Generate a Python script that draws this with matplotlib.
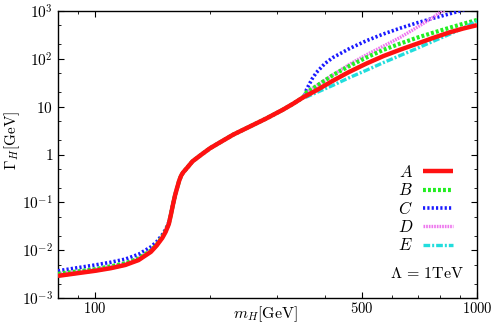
import numpy as np
import matplotlib
matplotlib.use("Agg")
import matplotlib.pyplot as plt
from matplotlib.ticker import FixedLocator, NullFormatter

plt.rcParams['mathtext.fontset'] = 'cm'
plt.rcParams['font.family'] = ['DejaVu Serif']

# Higgs mass grid (GeV) for low-mass part
m_low = [80, 90, 100, 110, 120, 130, 140, 145, 150, 153, 156, 158, 160, 162, 164,
         166, 168, 170, 175, 180, 190, 200, 210, 230, 250, 280, 310, 330, 350]
A_low = [2.9e-3, 3.3e-3, 3.7e-3, 4.2e-3, 4.9e-3, 6.2e-3, 9.2e-3, 0.0125, 0.018, 0.024,
         0.035, 0.055, 0.09, 0.14, 0.2, 0.28, 0.36, 0.42, 0.55, 0.72, 1.0, 1.35, 1.7,
         2.6, 3.6, 5.6, 8.6, 11.5, 15.5]
B_low = [3.2e-3, 3.6e-3, 4.0e-3, 4.6e-3, 5.3e-3, 6.7e-3, 9.8e-3, 0.013, 0.019, 0.025,
         0.036, 0.056, 0.09, 0.14, 0.2, 0.28, 0.36, 0.42, 0.55, 0.72, 1.0, 1.35, 1.7,
         2.6, 3.6, 5.6, 8.6, 11.5, 15.5]
C_low = [3.7e-3, 4.3e-3, 4.9e-3, 5.6e-3, 6.5e-3, 8.2e-3, 0.0117, 0.015, 0.021, 0.027,
         0.038, 0.058, 0.092, 0.14, 0.2, 0.28, 0.36, 0.42, 0.55, 0.72, 1.0, 1.35, 1.7,
         2.6, 3.6, 5.6, 8.6, 11.5, 15.5]

# high-mass part (above the top threshold)
m_A = [380, 420, 460, 514, 570, 629, 700, 769, 850, 920, 1000]
A_high = [22, 35, 52, 80, 115, 155, 210, 275, 360, 430, 505]
m_B = [358, 380, 420, 465, 514, 570, 629, 700, 769, 850, 920, 1000]
B_high = [20, 27, 46, 72, 107, 155, 208, 280, 353, 450, 540, 650]
m_C = [354, 358, 370, 380, 400, 420, 465, 514, 569, 629, 695, 769, 893, 950]
C_high = [17, 23, 38, 52, 80, 107, 166, 240, 331, 437, 562, 708, 977, 1150]
m_D = [358, 400, 465, 514, 569, 629, 695, 760, 808, 850]
D_high = [20, 36, 78, 122, 185, 280, 450, 700, 980, 1200]
m_E = [358, 420, 465, 514, 570, 629, 700, 740, 800, 850, 920, 1000]
E_high = [16, 28, 41, 58, 84, 117, 168, 205, 268, 330, 440, 620]

mA = m_low + m_A
A = A_low + A_high
mB = m_low + m_B
B = B_low + B_high
mC = m_low + m_C
C = C_low + C_high
mD = m_low + m_D
D = B_low + D_high
mE = m_low + m_E
E = A_low + E_high

fig = plt.figure(figsize=(4.91, 3.24), dpi=100)
ax = fig.add_axes([58/491, 1-298/324, (477-58)/491, (298-11)/324])

lC, = ax.plot(mC, C, color='#1a1aff', lw=2.6, ls=(0, (0.6, 0.6)), zorder=3)
lD, = ax.plot(mD, D, color='#ee77ee', lw=2.4, ls=(0, (0.5, 0.3)), zorder=3)
lB, = ax.plot(mB, B, color='#22ee22', lw=3.0, ls=(0, (0.7, 0.5)), zorder=4)
lE, = ax.plot(mE, E, color='#22dddd', lw=2.4, ls=(0, (2.0, 0.6, 0.6, 0.6)), zorder=4)
lA, = ax.plot(mA, A, color='#ff1111', lw=3.2, solid_capstyle='butt', zorder=5)

ax.set_xscale('log')
ax.set_yscale('log')
ax.set_xlim(80, 1000)
ax.set_ylim(1e-3, 1e3)

ax.xaxis.set_major_locator(FixedLocator([100, 500, 1000]))
ax.set_xticklabels(['$100$', '$500$', '$1000$'])
ax.xaxis.set_minor_locator(FixedLocator([90, 200, 300, 400, 600, 700, 800, 900]))
ax.xaxis.set_minor_formatter(NullFormatter())

yt = [1e-3, 1e-2, 1e-1, 1, 10, 100, 1000]
ax.yaxis.set_major_locator(FixedLocator(yt))
ax.set_yticklabels(['$10^{-3}$', '$10^{-2}$', '$10^{-1}$', '$1$', '$10$', '$10^{2}$', '$10^{3}$'])
minors = []
for d in range(-3, 3):
    minors += [2 * 10.0**d, 5 * 10.0**d]
ax.yaxis.set_minor_locator(FixedLocator(minors))
ax.yaxis.set_minor_formatter(NullFormatter())

ax.tick_params(which='both', direction='in', top=True, right=True, labelsize=11)
ax.tick_params(axis='x', which='major', pad=2, labelsize=10.5)
ax.tick_params(which='major', length=4, width=0.8)
ax.tick_params(which='minor', length=2.5, width=0.6)
for s in ax.spines.values():
    s.set_linewidth(1.0)

ax.text(0.494, -0.055, r'$m_H[\mathrm{GeV}]$', transform=ax.transAxes,
        ha='center', va='center', fontsize=11.5)
ax.set_ylabel(r'$\Gamma_H[\mathrm{GeV}]$', fontsize=11)
ax.yaxis.set_label_coords(-0.085, 0.55)

leg = ax.legend([lA, lB, lC, lD, lE], ['$A$', '$B$', '$C$', '$D$', '$E$'],
                loc='lower right', bbox_to_anchor=(0.943, 0.152), frameon=False,
                markerfirst=False, fontsize=12, handlelength=1.8, labelspacing=0.08,
                handletextpad=0.6, borderaxespad=0, borderpad=0)
ax.text(0.881, 0.087, r'$\Lambda\,=\,1\mathrm{TeV}$', transform=ax.transAxes,
        ha='center', va='center', fontsize=11.5)

fig.savefig('out.png', dpi=100)
